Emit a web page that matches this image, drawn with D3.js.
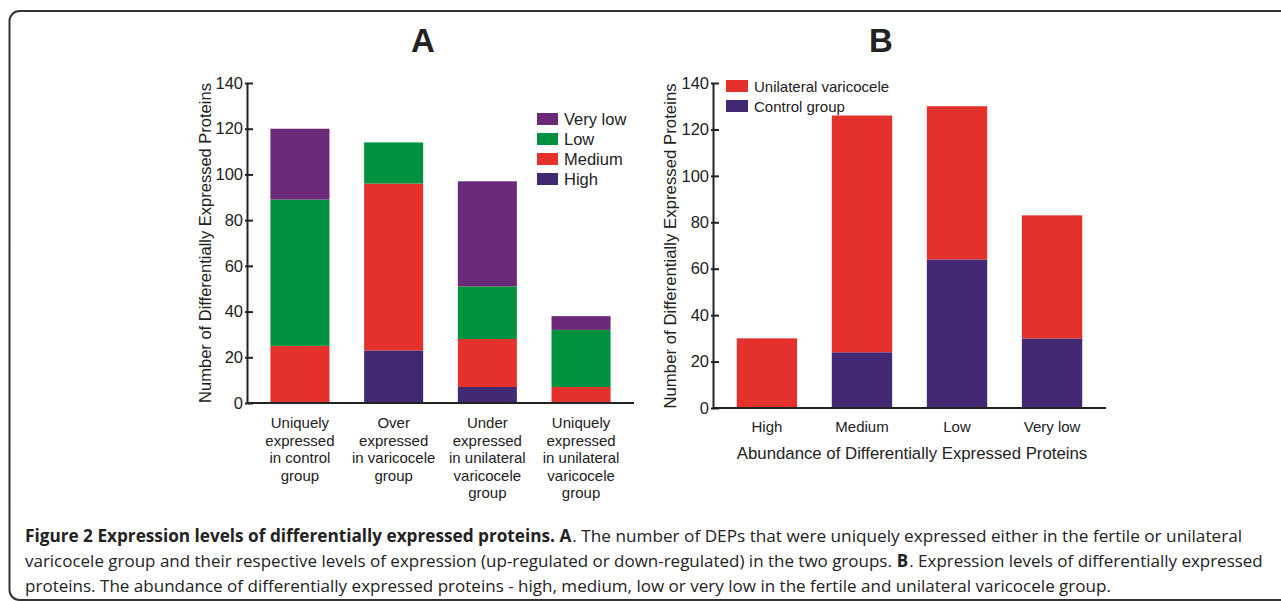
<!DOCTYPE html>
<html>
<head>
<meta charset="utf-8">
<script src="https://cdn.jsdelivr.net/npm/d3@7"></script>
<style>
  body { margin: 0; background: #fff; }
  svg { display: block; }
  text { font-family: "Liberation Sans", Arial, sans-serif; fill: #222; }
</style>
</head>
<body>
<svg id="fig" width="1281" height="601"></svg>
<script>
// panel A data
var groupsA = [
  ["Uniquely", "expressed", "in control", "group"],
  ["Over", "expressed", "in varicocele", "group"],
  ["Under", "expressed", "in unilateral", "varicocele", "group"],
  ["Uniquely", "expressed", "in unilateral", "varicocele", "group"]
];
var levelsA = ["High", "Medium", "Low", "Very low"];
var highA = [0, 23, 7, 0];
var mediumA = [25, 73, 21, 7];
var lowA = [64, 18, 23, 25];
var veryLowA = [31, 0, 46, 6];

// panel B data
var levelsB = ["High", "Medium", "Low", "Very low"];
var seriesB = ["Control group", "Unilateral varicocele"];
var controlB = [0, 24, 64, 30];
var varicoceleB = [30, 102, 66, 53];

var yTicks = [0, 20, 40, 60, 80, 100, 120, 140];

var colA = { "High": "#432874", "Medium": "#e4312b", "Low": "#00923f", "Very low": "#6b2a78" };
var colB = { "Control group": "#432874", "Unilateral varicocele": "#e4312b" };

var svg = d3.select("#fig");

// frame
svg.append("rect")
  .attr("x", 9.5).attr("y", 11)
  .attr("width", 1320).attr("height", 589)
  .attr("rx", 10)
  .attr("fill", "none").attr("stroke", "#333").attr("stroke-width", 2);

function yAxis(g, y, x0) {
  var ax = d3.axisLeft(y).tickValues(yTicks).tickSize(-6).tickSizeOuter(0).tickPadding(4);
  var a = g.append("g").attr("transform", "translate(" + x0 + ",0)").call(ax);
  a.select(".domain").attr("stroke", "#222").attr("stroke-width", 2);
  a.selectAll(".tick line").attr("x1", -2).attr("stroke", "#222").attr("stroke-width", 2);
  a.selectAll(".tick text").style("font-size", "16.5px")
    .style("font-family", "'Liberation Sans', Arial, sans-serif").attr("fill", "#222");
  return a;
}

// ---------- panel A ----------
var gA = svg.append("g");
var xA = d3.scaleBand().domain(d3.range(groupsA.length)).range([247, 634]).paddingInner(0.37).paddingOuter(0.25);
var yA = d3.scaleLinear().domain([0, 140]).range([403, 83]);

var rowsA = groupsA.map(function (d, i) {
  return { i: i, "High": highA[i], "Medium": mediumA[i], "Low": lowA[i], "Very low": veryLowA[i] };
});
var stackA = d3.stack().keys(levelsA)(rowsA);

gA.selectAll("g.layer").data(stackA).enter().append("g")
  .attr("fill", function (d) { return colA[d.key]; })
  .selectAll("rect").data(function (d) { return d; }).enter().append("rect")
  .attr("x", function (d) { return xA(d.data.i); })
  .attr("width", xA.bandwidth())
  .attr("y", function (d) { return yA(d[1]); })
  .attr("height", function (d) { return yA(d[0]) - yA(d[1]); });

yAxis(gA, yA, 247);
gA.append("line").attr("x1", 247).attr("x2", 634).attr("y1", yA(0)).attr("y2", yA(0))
  .attr("stroke", "#222").attr("stroke-width", 2);

gA.selectAll("text.xl").data(groupsA).enter().append("text")
  .attr("class", "xl")
  .attr("text-anchor", "middle")
  .style("font-size", "15px")
  .attr("transform", function (d, i) { return "translate(" + (xA(i) + xA.bandwidth() / 2) + ",428)"; })
  .selectAll("tspan").data(function (d) { return d; }).enter().append("tspan")
  .attr("x", 0).attr("y", function (d, j) { return j * 17.5; })
  .text(function (d) { return d; });

gA.append("text")
  .attr("transform", "translate(211,243) rotate(-90)")
  .attr("text-anchor", "middle").style("font-size", "16.5px")
  .text("Number of Differentially Expressed Proteins");

var legA = gA.selectAll("g.leg").data(levelsA.slice().reverse()).enter().append("g")
  .attr("transform", function (d, i) { return "translate(537," + (119 + i * 20) + ")"; });
legA.append("rect").attr("x", 0).attr("y", -6).attr("width", 21).attr("height", 12)
  .attr("fill", function (d) { return colA[d]; });
legA.append("text").attr("x", 27).attr("y", 6).style("font-size", "16.5px").text(function (d) { return d; });

gA.append("text").attr("x", 423).attr("y", 52).attr("text-anchor", "middle")
  .style("font-size", "33px").style("font-weight", "bold").text("A");

// ---------- panel B ----------
var gB = svg.append("g");
var xB = d3.scaleBand().domain(levelsB).range([713, 1106]).paddingInner(0.365).paddingOuter(0.25);
var yB = d3.scaleLinear().domain([0, 140]).range([408, 83]);

var rowsB = levelsB.map(function (d, i) {
  return { level: d, "Control group": controlB[i], "Unilateral varicocele": varicoceleB[i] };
});
var stackB = d3.stack().keys(seriesB)(rowsB);

gB.selectAll("g.layer").data(stackB).enter().append("g")
  .attr("fill", function (d) { return colB[d.key]; })
  .selectAll("rect").data(function (d) { return d; }).enter().append("rect")
  .attr("x", function (d) { return xB(d.data.level); })
  .attr("width", xB.bandwidth())
  .attr("y", function (d) { return yB(d[1]); })
  .attr("height", function (d) { return yB(d[0]) - yB(d[1]); });

yAxis(gB, yB, 713);
gB.append("line").attr("x1", 713).attr("x2", 1106).attr("y1", yB(0)).attr("y2", yB(0))
  .attr("stroke", "#222").attr("stroke-width", 2);

gB.selectAll("text.xl").data(levelsB).enter().append("text")
  .attr("x", function (d) { return xB(d) + xB.bandwidth() / 2; })
  .attr("y", 432).attr("text-anchor", "middle").style("font-size", "15px")
  .text(function (d) { return d; });

gB.append("text").attr("x", 912).attr("y", 459).attr("text-anchor", "middle")
  .style("font-size", "16.8px").text("Abundance of Differentially Expressed Proteins");

gB.append("text")
  .attr("transform", "translate(676,246) rotate(-90)")
  .attr("text-anchor", "middle").style("font-size", "16.8px")
  .text("Number of Differentially Expressed Proteins");

var legB = gB.selectAll("g.leg").data(seriesB.slice().reverse()).enter().append("g")
  .attr("transform", function (d, i) { return "translate(726," + (86 + i * 20) + ")"; });
legB.append("rect").attr("x", 0).attr("y", -6).attr("width", 22).attr("height", 12)
  .attr("fill", function (d) { return colB[d]; });
legB.append("text").attr("x", 28).attr("y", 5.5).style("font-size", "15px").text(function (d) { return d; });

gB.append("text").attr("x", 881).attr("y", 52).attr("text-anchor", "middle")
  .style("font-size", "33px").style("font-weight", "bold").text("B");

// ---------- caption ----------
// font size per line is tuned so each line ends where it does in the figure
var caption = [
  { end: 1243, parts: [["Figure 2 Expression levels of differentially expressed proteins. A", true, 0],
    [". The number of DEPs that were uniquely expressed either in the fertile or unilateral", false, 1]] },
  { end: 1263, parts: [["varicocele group and their respective levels of expression (up-regulated or down-regulated) in the two groups.", false, 0],
    ["B", true, 5], [". Expression levels of differentially expressed", false, 1]] },
  { end: 1112, parts: [["proteins. The abundance of differentially expressed proteins - high, medium, low or very low in the fertile and unilateral varicocele group.", false, 0]] }
];
caption.forEach(function (line, i) {
  var y = 542 + i * 25;
  var fs = 17.5;
  var nodes = line.parts.map(function (p) {
    return svg.append("text")
      .attr("y", y)
      .style("font-family", "'Open Sans', sans-serif").style("font-size", fs + "px")
      .style("font-weight", p[1] ? "bold" : "normal")
      .text(p[0]);
  });
  var gaps = d3.sum(line.parts, function (p) { return p[2]; });
  var total = d3.sum(nodes, function (n) { return n.node().getComputedTextLength(); });
  fs = fs * (line.end - 25 - gaps) / total;
  nodes.forEach(function (n) { n.style("font-size", fs + "px"); });
  var x = 25;
  nodes.forEach(function (n, j) {
    x += line.parts[j][2];
    n.attr("x", x);
    x += n.node().getComputedTextLength();
  });
});
</script>
</body>
</html>
